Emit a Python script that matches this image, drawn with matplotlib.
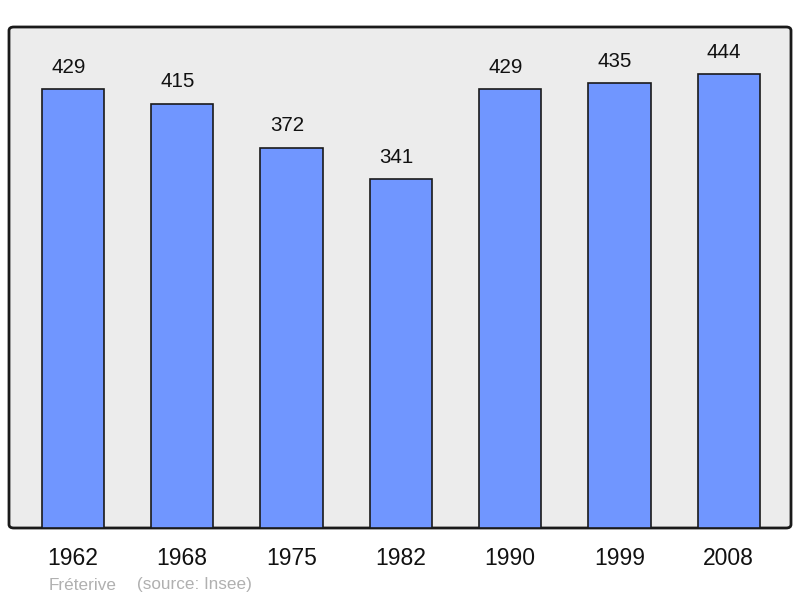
import matplotlib
matplotlib.use("Agg")
import matplotlib.pyplot as plt
from matplotlib.patches import FancyBboxPatch
from matplotlib.transforms import offset_copy

plt.rcParams['font.family'] = ['Liberation Sans', 'DejaVu Sans']

years = ['1962', '1968', '1975', '1982', '1990', '1999', '2008']
population = [429, 415, 372, 341, 429, 435, 444]
commune = 'Fréterive'
source = '(source: Insee)'

W, H = 800, 598
fig = plt.figure(figsize=(W / 100, H / 100), dpi=100)

# axes placed to match the frame in pixels
left, right, top, bottom = 9, 791, 27, 528
ax = fig.add_axes([left / W, 1 - bottom / H, (right - left) / W, (bottom - top) / H])
ax.set_facecolor('none')
ax.set_zorder(2)

# background frame with rounded corners, drawn under the axes
frame = FancyBboxPatch((left / W, 1 - bottom / H), (right - left) / W, (bottom - top) / H,
                       boxstyle='round,pad=0,rounding_size=0.006',
                       transform=fig.transFigure, facecolor='#ececec',
                       edgecolor='#1a1a1a', linewidth=2, zorder=-1)
fig.patches.append(frame)

x = list(range(len(years)))
ax.bar(x, population, width=0.57, color='#7096ff', edgecolor='#1a1a1a', linewidth=1.2, zorder=2)
# value labels sit a little left of the bar centre in the original
lbl_tr = offset_copy(ax.transData, fig=fig, x=-4.5, y=0, units='dots')
for xi, v in zip(x, population):
    ax.text(xi, v + 12, str(v), ha='center', va='bottom', fontsize=14.8,
            color='#111111', transform=lbl_tr)

ax.set_xlim(-0.585, 6.57)
ax.set_ylim(0, 490)
for s in ax.spines.values():
    s.set_visible(False)
ax.set_yticks([])
ax.set_xticks(x)
ax.set_xticklabels(years, fontsize=16.5, color='#111111')
ax.tick_params(axis='x', length=0, pad=14)

fig.text(49 / W, 1 - 585 / H, commune, fontsize=12.3, color='#b0b0b0', va='center', ha='left')
fig.text(137 / W, 1 - 585 / H, source, fontsize=12.3, color='#b0b0b0', va='center', ha='left')

fig.savefig('out.png', dpi=100)
